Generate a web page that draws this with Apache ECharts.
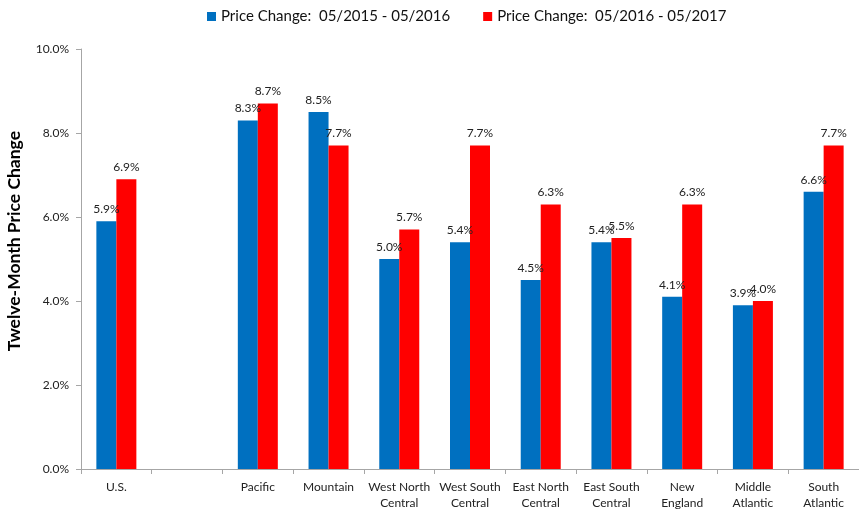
<!DOCTYPE html>
<html>
<head>
<meta charset="utf-8" />
<style>
  html, body { margin: 0; padding: 0; background: #fff; }
  #main { width: 859px; height: 512px; }
</style>
</head>
<body>
<div id="main"></div>
<script src="https://cdn.jsdelivr.net/npm/echarts@6/dist/echarts.min.js"></script>
<script>
  var regions = ['U.S.', '', 'Pacific', 'Mountain', 'West North\nCentral', 'West South\nCentral',
    'East North\nCentral', 'East South\nCentral', 'New\nEngland', 'Middle\nAtlantic', 'South\nAtlantic'];
  var change1516 = [5.9, '-', 8.3, 8.5, 5.0, 5.4, 4.5, 5.4, 4.1, 3.9, 6.6];
  var change1617 = [6.9, '-', 8.7, 7.7, 5.7, 7.7, 6.3, 5.5, 6.3, 4.0, 7.7];
  var yTicks = [0, 2, 4, 6, 8, 10];

  var font = 'Lato, "Open Sans", sans-serif';
  var chart = echarts.init(document.getElementById('main'));

  var labelStyle = {
    show: true,
    position: 'top',
    distance: 6,
    color: '#222',
    fontSize: 12,
    fontFamily: font,
    formatter: function (p) { return p.value.toFixed(1) + '%'; }
  };

  var option = {
    animation: false,
    textStyle: { fontFamily: font },
    grid: { left: 81, top: 49, bottom: 43, width: 786 },
    legend: {
      top: 4,
      left: 202,
      itemWidth: 9,
      itemHeight: 9,
      itemGap: 33,
      icon: 'rect',
      textStyle: { fontSize: 15, color: '#111', fontFamily: font },
      data: ['Price Change:  05/2015 - 05/2016', 'Price Change:  05/2016 - 05/2017']
    },
    graphic: [{
      type: 'text',
      left: 5,
      top: 131,
      rotation: Math.PI / 2,
      style: {
        text: 'Twelve-Month Price Change',
        fontSize: 17.5,
        fontWeight: 'bold',
        fontFamily: font,
        fill: '#000'
      }
    }],
    xAxis: {
      type: 'category',
      data: regions,
      axisLine: { lineStyle: { color: '#a6a6a6', width: 1 } },
      axisTick: { show: true, length: 5, lineStyle: { color: '#a6a6a6' } },
      axisLabel: { color: '#222', fontSize: 12, lineHeight: 16, margin: 10, interval: 0 }
    },
    yAxis: {
      type: 'value',
      min: yTicks[0],
      max: yTicks[yTicks.length - 1],
      interval: 2,
      splitLine: { show: false },
      axisLine: { show: true, lineStyle: { color: '#a6a6a6', width: 1 } },
      axisTick: { show: true, length: 5, lineStyle: { color: '#a6a6a6' } },
      axisLabel: {
        color: '#222', fontSize: 12, margin: 12,
        formatter: function (v) { return v.toFixed(1) + '%'; }
      }
    },
    series: [
      {
        name: 'Price Change:  05/2015 - 05/2016',
        type: 'bar',
        data: change1516,
        barWidth: 20,
        barGap: '0%',
        itemStyle: { color: '#0070c0' },
        label: labelStyle
      },
      {
        name: 'Price Change:  05/2016 - 05/2017',
        type: 'bar',
        data: change1617,
        barWidth: 20,
        barGap: '0%',
        itemStyle: { color: '#ff0000' },
        label: labelStyle
      }
    ]
  };
  chart.setOption(option);
</script>
</body>
</html>
